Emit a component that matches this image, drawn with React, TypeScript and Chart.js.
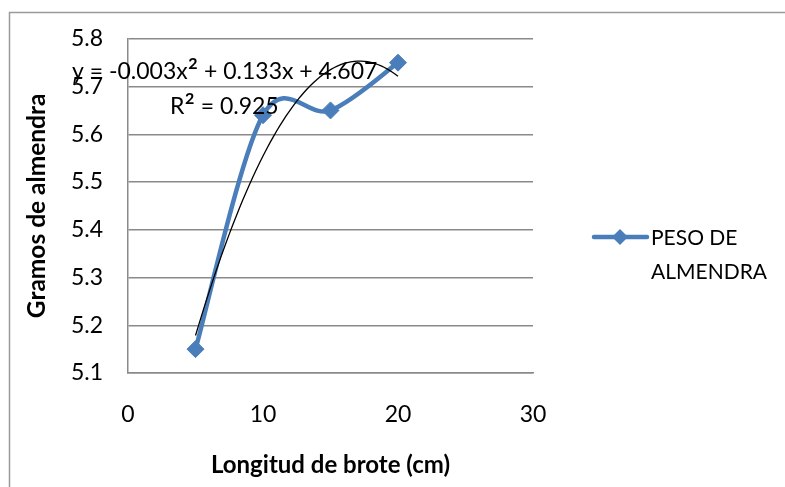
import React, { useEffect, useRef } from 'react';
import { Chart, registerables } from 'chart.js';

Chart.register(...registerables);

const xValues: number[] = [5, 10, 15, 20];
const yValues: number[] = [5.15, 5.64, 5.65, 5.75];
const seriesLabel: string[] = ['PESO DE', 'ALMENDRA'];
const xTicks: number[] = [0, 10, 20, 30];
const yTicks: number[] = [5.1, 5.2, 5.3, 5.4, 5.5, 5.6, 5.7, 5.8];
const xTitle = 'Longitud de brote (cm)';
const yTitle = 'Gramos de almendra';
const equationParts: string[] = ['y = -0.003x', '²', ' + 0.133x + 4.607'];
const r2Parts: string[] = ['R', '²', ' = 0.925'];

const FONT = 'Lato, "Open Sans", sans-serif';
const BLUE = '#4A7EBB';
const GRID = '#8a8a8a';

// Least-squares quadratic fit of the series (Excel polynomial trendline, order 2)
function quadFit(xs: number[], ys: number[]): [number, number, number] {
  const n = xs.length;
  let s1 = 0, s2 = 0, s3 = 0, s4 = 0, t0 = 0, t1 = 0, t2 = 0;
  for (let i = 0; i < n; i++) {
    const x = xs[i], y = ys[i];
    s1 += x; s2 += x * x; s3 += x * x * x; s4 += x * x * x * x;
    t0 += y; t1 += x * y; t2 += x * x * y;
  }
  const M = [
    [n, s1, s2, t0],
    [s1, s2, s3, t1],
    [s2, s3, s4, t2],
  ];
  for (let c = 0; c < 3; c++) {
    for (let r = c + 1; r < 3; r++) {
      const f = M[r][c] / M[c][c];
      for (let k = c; k < 4; k++) M[r][k] -= f * M[c][k];
    }
  }
  const sol = [0, 0, 0];
  for (let r = 2; r >= 0; r--) {
    let s = M[r][3];
    for (let k = r + 1; k < 3; k++) s -= M[r][k] * sol[k];
    sol[r] = s / M[r][r];
  }
  return [sol[0], sol[1], sol[2]];
}

const [c0, c1, c2] = quadFit(xValues, yValues);
const trendPoints: { x: number; y: number }[] = [];
{
  const x0 = Math.min(...xValues);
  const x1 = Math.max(...xValues);
  const steps = 60;
  for (let i = 0; i <= steps; i++) {
    const x = x0 + ((x1 - x0) * i) / steps;
    trendPoints.push({ x, y: c0 + c1 * x + c2 * x * x });
  }
}

// Excel-style smoothing: control points at 1/6 of the neighbour chord
const excelSmoothPlugin = {
  id: 'excelSmooth',
  beforeDatasetDraw(chart: any, args: any) {
    if (args.index !== 0) return;
    const meta = chart.getDatasetMeta(0);
    const line = meta.dataset;
    if (!line) return;
    if (typeof line.updateControlPoints === 'function') line.updateControlPoints(chart.chartArea, 'x');
    const pts = meta.data;
    const n = pts.length;
    for (let i = 0; i < n; i++) {
      const cur = pts[i];
      const prev = pts[Math.max(0, i - 1)];
      const next = pts[Math.min(n - 1, i + 1)];
      const dx = (next.x - prev.x) / 6;
      const dy = (next.y - prev.y) / 6;
      cur.cp1x = cur.x - dx;
      cur.cp1y = cur.y - dy;
      cur.cp2x = cur.x + dx;
      cur.cp2y = cur.y + dy;
    }
    line._pointsUpdated = true;
    line._path = undefined;
  },
};

function drawParts(ctx: CanvasRenderingContext2D, parts: string[], x: number, y: number, size: number) {
  let cx = x;
  parts.forEach((p) => {
    const sup = p === '²';
    ctx.font = `${sup ? Math.round(size * 1.35) : size}px ${FONT}`;
    ctx.fillText(p, cx, sup ? y + 1 : y);
    cx += ctx.measureText(p).width;
  });
}

const overlayPlugin = {
  id: 'overlay',
  afterDraw(chart: any) {
    const ctx = chart.ctx as CanvasRenderingContext2D;
    ctx.save();
    // outer chart border
    ctx.strokeStyle = '#9a9a9a';
    ctx.lineWidth = 1.5;
    ctx.beginPath();
    ctx.moveTo(9.5, 520);
    ctx.lineTo(9.5, 12.5);
    ctx.lineTo(800, 12.5);
    ctx.stroke();

    // trendline equation
    ctx.fillStyle = '#000';
    ctx.textBaseline = 'middle';
    ctx.textAlign = 'left';
    drawParts(ctx, equationParts, 72, 72, 23);
    drawParts(ctx, r2Parts, 170, 107, 23);

    // legend
    const ly = 237;
    ctx.strokeStyle = BLUE;
    ctx.lineWidth = 4.5;
    ctx.lineCap = 'round';
    ctx.beginPath();
    ctx.moveTo(594, ly);
    ctx.lineTo(647, ly);
    ctx.stroke();
    ctx.fillStyle = BLUE;
    ctx.beginPath();
    ctx.moveTo(620, ly - 8);
    ctx.lineTo(628, ly);
    ctx.lineTo(620, ly + 8);
    ctx.lineTo(612, ly);
    ctx.closePath();
    ctx.fill();
    ctx.fillStyle = '#000';
    ctx.font = `21px ${FONT}`;
    ctx.fillText(seriesLabel[0], 651, ly + 1);
    ctx.fillText(seriesLabel[1], 651, ly + 35);
    ctx.restore();
  },
};

export default function App() {
  const ref = useRef<HTMLCanvasElement | null>(null);
  useEffect(() => {
    if (!ref.current) return;
    const chart = new Chart(ref.current, {
      type: 'scatter',
      data: {
        datasets: [
          {
            label: seriesLabel.join(' '),
            data: xValues.map((x, i) => ({ x, y: yValues[i] })),
            showLine: true,
            borderColor: BLUE,
            backgroundColor: BLUE,
            borderWidth: 4.5,
            tension: 0.4,
            pointStyle: 'rectRot',
            pointRadius: 8.5,
            pointHoverRadius: 8.5,
            pointBorderWidth: 1,
            order: 1,
          },
          {
            label: 'trend',
            data: trendPoints,
            showLine: true,
            borderColor: '#000',
            borderWidth: 1.3,
            pointRadius: 0,
            tension: 0,
            order: 0,
          },
        ],
      },
      options: {
        responsive: false,
        animation: false,
        layout: { padding: { top: 36, right: 252, left: 0, bottom: 0 } },
        plugins: {
          legend: { display: false },
          tooltip: { enabled: false },
        },
        scales: {
          x: {
            type: 'linear',
            min: 0,
            max: 30,
            afterBuildTicks: (s: any) => {
              s.ticks = xTicks.map((v) => ({ value: v }));
            },
            afterFit: (s: any) => {
              s.height = 114;
            },
            grid: { display: false, drawTicks: false },
            border: { display: true, color: GRID, width: 1.5 },
            ticks: {
              padding: 28,
              color: '#000',
              font: { family: FONT, size: 23 },
              maxRotation: 0,
              callback: (v: any) => String(v),
            },
            title: {
              display: true,
              text: xTitle,
              color: '#000',
              font: { family: FONT, size: 24, weight: 'bold' },
              padding: { top: 0, bottom: 7 },
            },
          },
          y: {
            type: 'linear',
            min: 5.1,
            max: 5.8,
            afterBuildTicks: (s: any) => {
              s.ticks = yTicks.map((v) => ({ value: v }));
            },
            afterFit: (s: any) => {
              s.width = 128;
            },
            grid: { display: true, color: GRID, lineWidth: 1.5, drawTicks: false },
            border: { display: true, color: GRID, width: 1.5 },
            ticks: {
              padding: 25,
              color: '#000',
              font: { family: FONT, size: 23 },
              callback: (v: any) => Number(v).toFixed(1),
            },
            title: {
              display: true,
              text: yTitle,
              color: '#000',
              font: { family: FONT, size: 24.5, weight: 'bold' },
              padding: { top: 22, bottom: 0 },
            },
          },
        },
      },
      plugins: [excelSmoothPlugin, overlayPlugin],
    });
    return () => chart.destroy();
  }, []);
  return (
    <div style={{ position: 'absolute', left: 0, top: 0, width: 785, height: 487, background: '#fff' }}>
      <canvas ref={ref} width={785} height={487} style={{ display: 'block' }} />
    </div>
  );
}
